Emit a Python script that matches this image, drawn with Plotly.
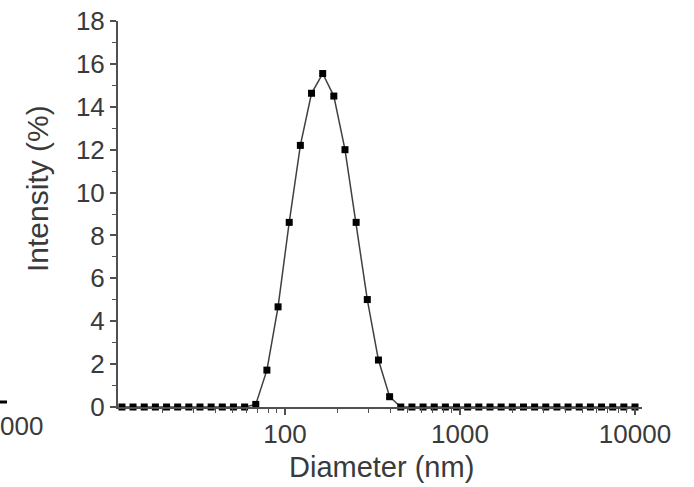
import plotly.graph_objects as go

# Diameter bins (nm) and intensity (%)
diameter_nm = [11.70, 13.54, 15.69, 18.17, 21.04, 24.36, 28.21, 32.67, 37.84, 43.82,
               50.75, 58.77, 68.06, 78.82, 91.28, 105.7, 122.4, 141.8, 164.2, 190.1,
               220.2, 255.0, 295.3, 342.0, 396.1, 458.7, 531.2, 615.1, 712.4, 825.0,
               955.4, 1106, 1281, 1484, 1718, 1990, 2305, 2669, 3091, 3580,
               4145, 4801, 5560, 6439, 7456, 8635, 10000]
intensity_pct = [0, 0, 0, 0, 0, 0, 0, 0, 0, 0,
                 0, 0, 0.12, 1.72, 4.67, 8.61, 12.2, 14.63, 15.55, 14.5,
                 12.0, 8.61, 5.01, 2.19, 0.48, 0, 0, 0, 0, 0,
                 0, 0, 0, 0, 0, 0, 0, 0, 0, 0,
                 0, 0, 0, 0, 0, 0, 0]

x_major_ticks = [100, 1000, 10000]
x_major_labels = ["100", "1000", "10000"]
x_minor_ticks = [20, 30, 40, 50, 60, 70, 80, 90,
                 200, 300, 400, 500, 600, 700, 800, 900,
                 2000, 3000, 4000, 5000, 6000, 7000, 8000, 9000]
y_major_ticks = [0, 2, 4, 6, 8, 10, 12, 14, 16, 18]
y_minor_ticks = [1, 3, 5, 7, 9, 11, 13, 15, 17]
x_title = "Diameter (nm)"
y_title = "Intensity (%)"

FONT = "Liberation Sans, Arial, sans-serif"
TXT = "#3a3a3a"
AX = "#505050"

fig = go.Figure()
fig.add_trace(go.Scatter(
    x=diameter_nm, y=intensity_pct, mode="lines+markers",
    line=dict(color="#404040", width=1.5),
    marker=dict(symbol="square", size=7, color="black"),
    cliponaxis=False, showlegend=False,
))

W, H = 694, 487
L, R, T, B = 118, 52, 21, 80
pw = W - L - R
ph = H - T - B


def px_x(px):
    return (px - L) / pw


def px_y(py):
    return (H - B - py) / ph


fig.update_layout(
    width=W, height=H,
    margin=dict(l=L, r=R, t=T, b=B, pad=0),
    paper_bgcolor="white", plot_bgcolor="white",
    font=dict(family=FONT, color=TXT),
    xaxis=dict(
        type="log", range=[1.0457, 4.04], automargin=False,
        tickvals=x_major_ticks, ticktext=x_major_labels,
        ticks="outside", ticklen=6, tickwidth=1.5, tickcolor=AX,
        ticklabelstandoff=-3,
        minor=dict(tickvals=x_minor_ticks, ticks="outside", ticklen=4,
                   tickwidth=1.2, tickcolor=AX, showgrid=False),
        showline=True, linecolor=AX, linewidth=1.5,
        showgrid=False, zeroline=False,
        tickfont=dict(size=26, color=TXT, family=FONT),
    ),
    yaxis=dict(
        range=[0, 18], automargin=False,
        tickvals=y_major_ticks,
        ticks="outside", ticklen=6, tickwidth=1.5, tickcolor=AX,
        minor=dict(tickvals=y_minor_ticks, ticks="outside", ticklen=4,
                   tickwidth=1.2, tickcolor=AX, showgrid=False),
        showline=True, linecolor=AX, linewidth=2,
        showgrid=False, zeroline=False,
        tickfont=dict(size=26, color=TXT, family=FONT),
    ),
)

# Axis titles
fig.add_annotation(xref="paper", yref="paper", x=px_x(381), y=px_y(467),
                   text=x_title, showarrow=False, xanchor="center", yanchor="middle",
                   font=dict(size=29, color=TXT, family=FONT))
fig.add_annotation(xref="paper", yref="paper", x=px_x(37), y=px_y(189),
                   text=y_title, showarrow=False, textangle=-90,
                   xanchor="center", yanchor="middle",
                   font=dict(size=30, color=TXT, family=FONT))

# Cropped remnant of a neighbouring panel at the far left
fig.add_annotation(
    xref="paper", yref="paper", x=px_x(-2), y=px_y(426),
    text="000", showarrow=False, xanchor="left", yanchor="middle",
    font=dict(size=26, color=TXT, family=FONT),
)
fig.add_shape(type="line", xref="paper", yref="paper",
              x0=px_x(0), x1=px_x(7), y0=px_y(402), y1=px_y(402),
              line=dict(color="black", width=3))

fig.write_html("out.html")
